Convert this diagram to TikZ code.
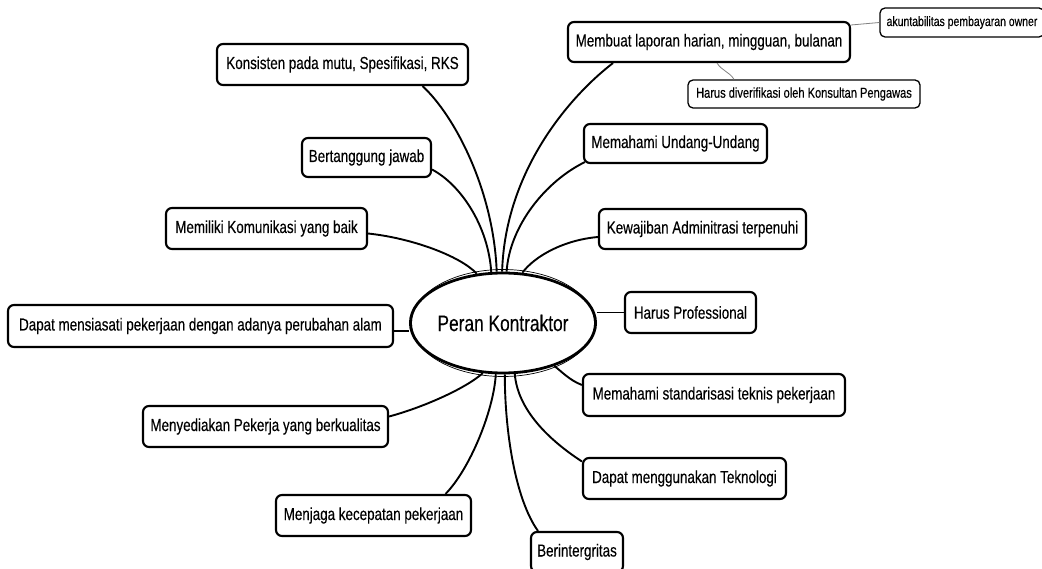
\documentclass[tikz,border=0pt]{standalone}
\usepackage{fontspec}
\setmainfont{Liberation Sans}[FakeStretch=0.77,FakeBold=0.25]
\usetikzlibrary{shapes.geometric,calc}
\begin{document}
\begin{tikzpicture}[x=1bp,y=-1bp,
  box/.style={draw, line width=2.1bp, rounded corners=6bp, fill=white, inner sep=0pt,
    font=\fontsize{17.4bp}{19bp}\selectfont},
  sbox/.style={draw, line width=1.3bp, rounded corners=5bp, fill=white, inner sep=0pt,
    font=\fontsize{14.4bp}{16bp}\selectfont},
  link/.style={line width=1.9bp, black},
  slink/.style={line width=0.8bp, gray}]
\useasboundingbox (0,0) rectangle (1042,569);

% central ellipse
\node[ellipse, draw, line width=2.8bp, minimum width=176bp, minimum height=100bp, inner sep=0pt,
  font=\fontsize{22.5bp}{25bp}\selectfont] (c) at (503,323) {Peran Kontraktor};
\draw[line width=0.7bp] (c.center) ellipse [x radius=91.5, y radius=53.5];

% boxes
\node[box, minimum width=251bp, minimum height=41bp] (n1) at (342.5,64.5) {Konsisten pada mutu, Spesifikasi, RKS};
\node[box, minimum width=129bp, minimum height=39bp] (n2) at (366.5,157.5) {Bertanggung jawab};
\node[box, minimum width=201bp, minimum height=41bp] (n3) at (266.5,228.5) {Memiliki Komunikasi yang baik};
\node[box, minimum width=385bp, minimum height=42bp] (n4) at (200.5,326) {Dapat mensiasati pekerjaan dengan adanya perubahan alam};
\node[box, minimum width=245bp, minimum height=41bp] (n5) at (265.5,426.5) {Menyediakan Pekerja yang berkualitas};
\node[box, minimum width=195bp, minimum height=41bp] (n6) at (373.5,515.5) {Menjaga kecepatan pekerjaan};
\node[box, minimum width=92bp, minimum height=40bp] (n7) at (577,552) {Berintergritas};
\node[box, minimum width=203bp, minimum height=41bp] (n8) at (684.5,478.5) {Dapat menggunakan Teknologi};
\node[box, minimum width=262bp, minimum height=42bp] (n9) at (714,395) {Memahami standarisasi teknis pekerjaan};
\node[box, minimum width=131bp, minimum height=41bp] (n10) at (690.5,312.5) {Harus Professional};
\node[box, minimum width=207bp, minimum height=40bp] (n11) at (702.5,229) {Kewajiban Adminitrasi terpenuhi};
\node[box, minimum width=183bp, minimum height=39bp] (n12) at (675.5,143.5) {Memahami Undang-Undang};
\node[box, minimum width=282bp, minimum height=40bp] (n13) at (709,42) {Membuat laporan harian, mingguan, bulanan};
\node[sbox, minimum width=164bp, minimum height=29bp, font=\fontsize{13.6bp}{15bp}\selectfont] (n14) at (962,22.5) {akuntabilitas pembayaran owner};
\node[sbox, minimum width=232bp, minimum height=28bp] (n15) at (804,94) {Harus diverifikasi oleh Konsultan Pengawas};

% connectors
\draw[link] ($(n1.south)+(80,0)$) .. controls +(32.5,30) and +(-3,-81) .. (c.97);
\draw[link] ($(n2.east)+(0,12)$) .. controls +(29,15.5) and +(-3,-46) .. (c.103);
\draw[link] ($(n3.east)+(0,5)$) .. controls +(43,4.5) and +(-17,-18) .. (c.118);
\coordinate (dm) at ($(n4.east)+(0,5)$);
\draw[link] (dm) -- (dm -| c.west);
\draw[link] ($(n5.east)+(0,-10)$) .. controls +(32,-8.5) and +(-18,16) .. (c.248);
\draw[link] ($(n6.north)+(72,0)$) .. controls +(24.5,-25) and +(-2,36) .. (c.262);
\draw[link] ($(n7.north)+(-39,0)$) .. controls +(-23,-32) and +(0,56) .. (c.272);
\draw[link] ($(n8.west)+(0,-17)$) .. controls +(-33,-21.5) and +(3,36) .. (c.283);
\draw[link] ($(n9.west)+(0,-10)$) .. controls +(-13,-5) and +(7,5) .. (c.320);
\draw[link] (n10.west) -- (n10.west -| c.east);
\draw[link] ($(n11.west)+(0,8)$) .. controls +(-34,3) and +(13,-17) .. (c.69);
\draw[link] ($(n12.south west)+(2,-2)$) .. controls +(-39,19) and +(3,-46) .. (c.86);
\draw[link] ($(n13.south)+(-96,0)$) .. controls +(-43,33) and +(3,-101) .. (c.91);
\draw[slink] ($(n13.east)+(0,-17)$) -- (n14.west);
\draw[slink] ($(n13.south)+(8,0)$) .. controls +(5,8) and +(-5,-8) .. ($(n15.north)+(-70,0)$);
\end{tikzpicture}
\end{document}
